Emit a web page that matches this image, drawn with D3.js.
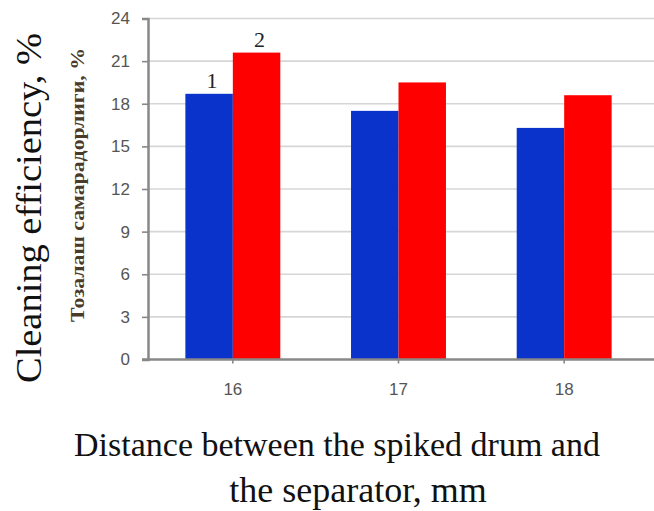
<!DOCTYPE html>
<html>
<head>
<meta charset="utf-8">
<script src="https://cdn.jsdelivr.net/npm/d3@7"></script>
<style>
  html, body { margin: 0; padding: 0; background: #fff; }
  svg { display: block; }
</style>
</head>
<body>
<svg id="chart" width="654" height="511"></svg>
<script>
const categories = ["16", "17", "18"];
const seriesNames = ["1", "2"];
const series1 = [18.7, 17.5, 16.3];
const series2 = [21.6, 19.5, 18.6];
const yTicks = [0, 3, 6, 9, 12, 15, 18, 21, 24];
const yTitleEn = "Cleaning efficiency,  %";
const yTitleUz = "Тозалаш самарадорлиги, %";
const xTitleLines = ["Distance between the spiked drum and", "the separator, mm"];

(function () {
const data = categories.map((c, i) => ({ cat: c, values: [series1[i], series2[i]] }));
const colors = ["#0933cb", "#ff0000"];

const svg = d3.select("#chart");
const pLeft = 148, pRight = 654, pTop = 18.5, pBottom = 359.5;

const y = d3.scaleLinear().domain([0, 24]).range([pBottom, pTop]);
const x0 = d3.scaleBand().domain(categories).range([150, 647]).padding(0);
const gw = x0.bandwidth() * 0.573;
const x1 = d3.scaleBand().domain([0, 1]).range([(x0.bandwidth() - gw) / 2, (x0.bandwidth() + gw) / 2]).padding(0);

// gridlines
svg.append("g")
  .selectAll("line").data(yTicks.filter(t => t > 0)).join("line")
  .attr("x1", pLeft).attr("x2", pRight)
  .attr("y1", d => y(d)).attr("y2", d => y(d))
  .attr("stroke", "#d6d6d6").attr("stroke-width", 1.6);

// bars
const groups = svg.append("g").selectAll("g").data(data).join("g")
  .attr("transform", d => `translate(${x0(d.cat)},0)`);
groups.selectAll("rect").data(d => d.values.map((v, k) => ({ v, k }))).join("rect")
  .attr("x", d => x1(d.k))
  .attr("width", x1.bandwidth())
  .attr("y", d => y(d.v))
  .attr("height", d => y(0) - y(d.v))
  .attr("fill", d => colors[d.k]);

// series labels above first group
const first = data[0];
svg.append("g").selectAll("text").data(first.values.map((v, k) => ({ v, k }))).join("text")
  .attr("x", d => x0(first.cat) + x1(d.k) + x1.bandwidth() / 2 + 3)
  .attr("y", d => y(d.v) - 6)
  .attr("text-anchor", "middle")
  .attr("font-family", "'Liberation Serif', 'Times New Roman', serif")
  .attr("font-size", 22)
  .attr("fill", "#222")
  .text(d => seriesNames[d.k]);

// y axis
const yAxis = d3.axisLeft(y).tickValues(yTicks).tickSize(6).tickSizeOuter(6).tickPadding(12);
const gy = svg.append("g").attr("transform", `translate(${pLeft},0)`).call(yAxis);
gy.select(".domain").attr("stroke", "#888").attr("stroke-width", 2.5);
gy.selectAll(".tick line").attr("stroke", "#888").attr("stroke-width", 1.6);
gy.selectAll(".tick text").attr("font-family", "'Liberation Sans', Arial, sans-serif")
  .attr("font-size", 17).attr("fill", "#555");

// x axis
const xAxis = d3.axisBottom(x0).tickSize(4).tickSizeOuter(0).tickPadding(19);
const gx = svg.append("g").attr("transform", `translate(0,${pBottom})`).call(xAxis);
gx.select(".domain").attr("d", `M${pLeft - 6},0H${pRight}`).attr("stroke", "#888").attr("stroke-width", 2.5);
gx.selectAll(".tick line").attr("stroke", "#888").attr("stroke-width", 1.6);
gx.selectAll(".tick text").attr("font-family", "'Liberation Sans', Arial, sans-serif")
  .attr("font-size", 17).attr("fill", "#555");

// y titles
svg.append("text")
  .attr("transform", "translate(41,208) rotate(-90)")
  .attr("text-anchor", "middle")
  .attr("font-family", "'Liberation Serif', 'Times New Roman', serif")
  .attr("font-size", 36)
  .attr("fill", "#111")
  .attr("textLength", 350).attr("lengthAdjust", "spacingAndGlyphs")
  .text(yTitleEn);

svg.append("text")
  .attr("transform", "translate(84,185) rotate(-90)")
  .attr("text-anchor", "middle")
  .attr("font-family", "'Liberation Serif', 'Times New Roman', serif")
  .attr("font-weight", "bold")
  .attr("font-size", 19)
  .attr("fill", "#4a3a28")
  .attr("textLength", 274).attr("lengthAdjust", "spacingAndGlyphs")
  .text(yTitleUz);

// x title
svg.append("g").selectAll("text").data(xTitleLines).join("text")
  .attr("x", (d, i) => i === 0 ? 337 : 358)
  .attr("y", (d, i) => i === 0 ? 456 : 502)
  .attr("text-anchor", "middle")
  .attr("font-family", "'Liberation Serif', 'Times New Roman', serif")
  .attr("font-size", (d, i) => i === 0 ? 34 : 36)
  .attr("fill", "#111")
  .text(d => d);
})();
</script>
</body>
</html>
